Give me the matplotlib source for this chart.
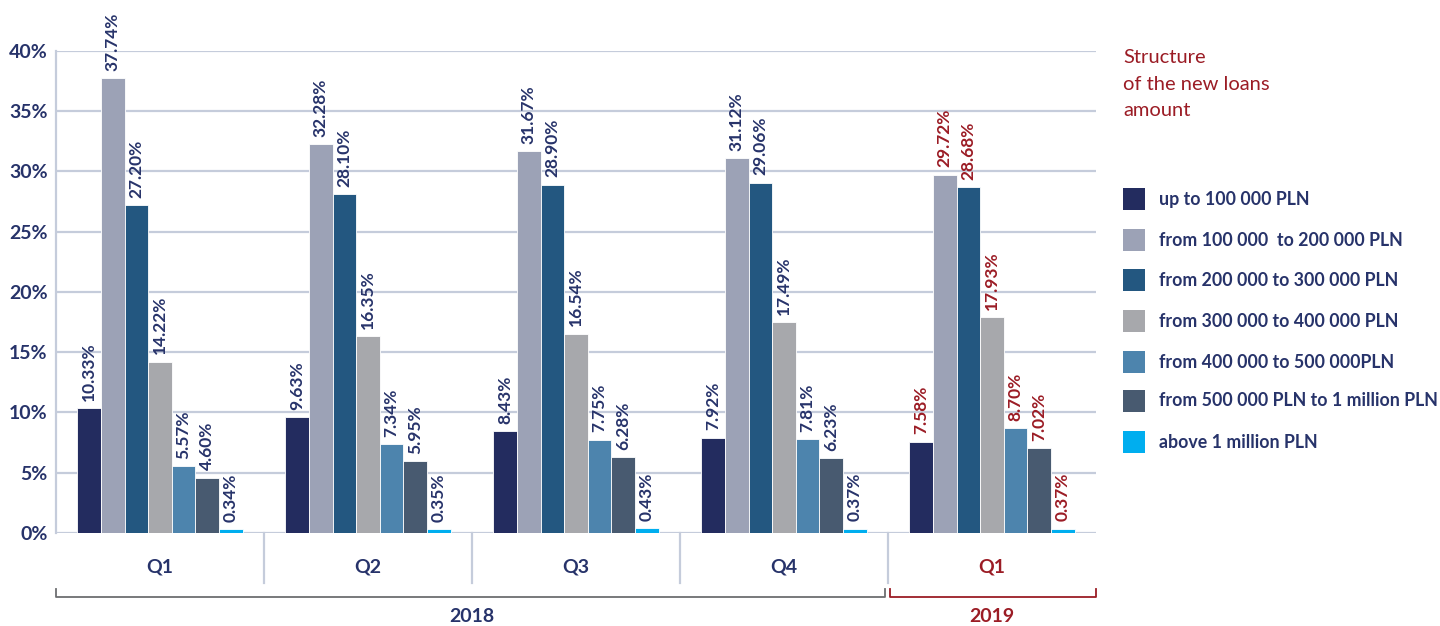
import matplotlib
matplotlib.use("Agg")
import matplotlib.pyplot as plt
from matplotlib.patches import Rectangle
import numpy as np

plt.rcParams['font.family'] = ['Lato', 'DejaVu Sans']

quarters = ["Q1", "Q2", "Q3", "Q4", "Q1"]
series_names = [
    "up to 100 000 PLN",
    "from 100 000  to 200 000 PLN",
    "from 200 000 to 300 000 PLN",
    "from 300 000 to 400 000 PLN",
    "from 400 000 to 500 000PLN",
    "from 500 000 PLN to 1 million PLN",
    "above 1 million PLN",
]
# values per series, one per quarter (Q1-Q4 2018, Q1 2019)
up_to_100k = [10.33, 9.63, 8.43, 7.92, 7.58]
from_100k_200k = [37.74, 32.28, 31.67, 31.12, 29.72]
from_200k_300k = [27.20, 28.10, 28.90, 29.06, 28.68]
from_300k_400k = [14.22, 16.35, 16.54, 17.49, 17.93]
from_400k_500k = [5.57, 7.34, 7.75, 7.81, 8.70]
from_500k_1m = [4.60, 5.95, 6.28, 6.23, 7.02]
above_1m = [0.34, 0.35, 0.43, 0.37, 0.37]
yticks = [0, 5, 10, 15, 20, 25, 30, 35, 40]

series = [up_to_100k, from_100k_200k, from_200k_300k, from_300k_400k,
          from_400k_500k, from_500k_1m, above_1m]
colors = ["#232C5F", "#9CA2B6", "#235780", "#A7A8AC", "#4D84AD", "#485A70", "#00AEEF"]

navy = "#27336A"
red = "#9B1C25"
grid_c = "#C5CCDB"

W, H = 1440, 626
fig = plt.figure(figsize=(14.4, 6.26), dpi=100)
ax = fig.add_axes([56 / W, 1 - 533 / H, 1040 / W, (533 - 50.7) / H])

bw = 0.1134
x = np.arange(len(quarters)) + 0.5
for i, (vals, c) in enumerate(zip(series, colors)):
    xs = x + (i - 3) * bw
    ax.bar(xs, vals, width=bw, color=c, edgecolor="white", linewidth=0.6, zorder=3)
    for j, (xx, v) in enumerate(zip(xs, vals)):
        tc = red if j == 4 else navy
        ax.text(xx, v + 0.6, f"{v:.2f}%", rotation=90, ha="center", va="bottom",
                fontsize=12.5, fontweight="bold", color=tc, clip_on=False)

ax.set_xlim(0, 5)
ax.set_ylim(0, 40)
ax.set_yticks(yticks)
ax.set_yticklabels([f"{t}%" for t in yticks], fontsize=14, fontweight="bold", color=navy)
ax.tick_params(axis="y", length=0, pad=6)
ax.set_xticks([])
for t in yticks:
    ax.axhline(t, color=grid_c, linewidth=1.6, zorder=1)
for s in ["top", "right", "bottom"]:
    ax.spines[s].set_visible(False)
ax.spines["left"].set_color(grid_c)
ax.spines["left"].set_linewidth(1.6)

trans = ax.get_xaxis_transform()
# group separators below the axis
for k in range(1, 5):
    ax.plot([k, k], [0, -0.1037], color=grid_c, linewidth=1.6, transform=trans, clip_on=False)
for j, q in enumerate(quarters):
    ax.text(j + 0.5, -0.0705, q, transform=trans, ha="center", va="center",
            fontsize=14, fontweight="bold", color=red if j == 4 else navy)

# year brackets
def bracket(x0, x1, color):
    ax.plot([x0, x0, x1, x1], [-0.116, -0.1327, -0.1327, -0.116], color=color,
            linewidth=1.3, transform=trans, clip_on=False)

bracket(0.0, 3.986, "#6D6E71")
bracket(4.01, 5.0, red)
ax.text(2.0, -0.174, "2018", transform=trans, ha="center", va="center",
        fontsize=14, fontweight="bold", color=navy)
ax.text(4.5, -0.174, "2019", transform=trans, ha="center", va="center",
        fontsize=14, fontweight="bold", color=red)

# title and legend on the right
fig.text(1123 / W, 1 - 84 / H, "Structure\nof the new loans\namount", ha="left", va="center",
         fontsize=14.5, color=red, linespacing=1.7)
row_y = [199, 240, 280, 321, 362, 401, 442]
for name, c, yy in zip(series_names, colors, row_y):
    fig.patches.append(Rectangle((1123 / W, 1 - (yy + 11) / H), 22 / W, 22 / H,
                                 transform=fig.transFigure, facecolor=c, edgecolor="none"))
    fig.text(1159 / W, 1 - yy / H, name, ha="left", va="center",
             fontsize=12.8, fontweight="bold", color=navy)

fig.savefig("out.png", dpi=100)
